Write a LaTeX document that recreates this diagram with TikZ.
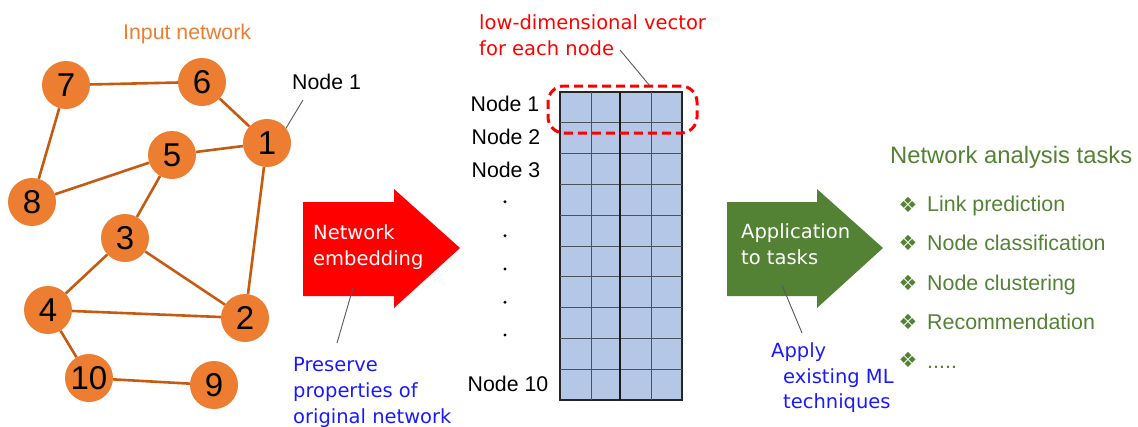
\documentclass[tikz,border=0pt]{standalone}
\usepackage{fontspec}
\setmainfont{Liberation Sans}
\newfontfamily\notefont{DejaVu Sans}
\newfontfamily\symfont{DejaVu Sans}
\definecolor{nodeorange}{HTML}{ED7D31}
\definecolor{edgeorange}{HTML}{C55A11}
\definecolor{taskgreen}{HTML}{548235}
\definecolor{noteblue}{HTML}{1A1AFF}
\definecolor{cellblue}{HTML}{B4C7E7}
\definecolor{gridgray}{HTML}{4A525C}
\begin{document}
\begin{tikzpicture}[x=1pt,y=-1pt,
  vertex/.style={circle, fill=nodeorange, minimum size=48pt, inner sep=0pt,
    font=\fontsize{33}{36}\selectfont},
  link/.style={draw=edgeorange, line width=2.6pt},
  leader/.style={draw=black!65, line width=0.9pt},
  plain/.style={inner sep=0pt, anchor=base west},
  rowlabel/.style={inner sep=0pt, anchor=base, font=\fontsize{21.3}{25}\selectfont},
  note/.style={inner sep=0pt, anchor=base west, align=left,
    font=\notefont\fontsize{19.5}{25.7}\selectfont},
  task/.style={inner sep=0pt, anchor=base west, text=taskgreen,
    font=\fontsize{21.4}{25}\selectfont},
  bullet/.style={inner sep=0pt, anchor=center, text=taskgreen,
    font=\symfont\fontsize{21}{24}\selectfont},
  gridline/.style={draw=gridgray, line width=0.9pt}
]
\useasboundingbox (0,0) rectangle (1138,426);

% ---------------- input network ----------------
\node[plain, text=nodeorange, font=\fontsize{21.3}{25}\selectfont] (title) at (123,39.3) {Input network};

\node[vertex] (n7)  at (66,85)   {7};
\node[vertex] (n6)  at (202,82)  {6};
\node[vertex] (n1)  at (267,143) {1};
\node[vertex] (n5)  at (172,155) {5};
\node[vertex] (n8)  at (32,202)  {8};
\node[vertex] (n3)  at (125,238) {3};
\node[vertex] (n4)  at (48,310)  {4};
\node[vertex] (n2)  at (245,318) {2};
\node[vertex] (n10) at (89,378)  {10};
\node[vertex] (n9)  at (214,385) {9};

\draw[link] (n7) -- (n6);
\draw[link] (n7) -- (n8);
\draw[link] (n6) -- (n1);
\draw[link] (n5) -- (n1);
\draw[link] (n5) -- (n8);
\draw[link] (n5) -- (n3);
\draw[link] (n1) -- (n2);
\draw[link] (n3) -- (n4);
\draw[link] (n3) -- (n2);
\draw[link] (n4) -- (n2);
\draw[link] (n4) -- (n10);
\draw[link] (n10) -- (n9);

\node[plain, font=\fontsize{21.3}{25}\selectfont] (nodeone) at (292,89.3) {Node 1};
\coordinate (nodeonefoot) at (303,100);
\draw[leader] (nodeonefoot) -- (n1.38);

% ---------------- network embedding arrow ----------------
% multi-line notes are anchored at the baseline of their last line
\fill[red] (303,202) -- (394,202) -- (394,189) -- (460,248) -- (394,308)
  -- (394,296) -- (303,296) -- cycle;
\node[note, text=white] (embed) at (313,265.3) {Network\\embedding};
\coordinate (embedpt) at (353,288);
\node[note, text=noteblue] (preserve) at (293,423) {Preserve\\properties of\\original network};
\coordinate (preservetop) at (337,343);
\draw[leader] (embedpt) -- (preservetop);

% ---------------- embedding matrix ----------------
\node[note, text=red] (vecnote) at (479,55.5) {low-dimensional vector\\for each node};
\node[draw=black!85, line width=1.2pt, fill=cellblue, inner sep=0pt,
  minimum width=122pt, minimum height=308pt] (mat) at (621,246) {};
\foreach \x in {591,651} \draw[gridline] (\x,92) -- (\x,400);
\foreach \k in {1,2,3,4,5,6,7,8,9} \draw[gridline] (560,92+30.8*\k) -- (682,92+30.8*\k);
\draw[black!90, line width=1.2pt] (620,92) -- (620,400);
\draw[black!85, line width=1.2pt] (mat.north west) rectangle (mat.south east);

\node[rowlabel] (r1) at (505,111.2) {Node 1};
\node[rowlabel] (r2) at (506,144.3) {Node 2};
\node[rowlabel] (r3) at (506,177.7) {Node 3};
\node[rowlabel] (r10) at (508,391.7) {Node 10};
\foreach \y in {201.7,235.7,269,302.3,335}
  \fill (505,\y) circle (1.6pt);

\node[draw=red, line width=3pt, dash pattern=on 9pt off 5pt,
  rounded corners=16pt, minimum width=149pt, minimum height=47pt,
  inner sep=0pt] (pick) at (622.5,109.5) {};
\coordinate (vecfoot) at (620,50);
\coordinate (pickedge) at (650,86);
\draw[leader] (vecfoot) -- (pickedge);

% ---------------- application arrow ----------------
\fill[taskgreen] (727,202) -- (817,202) -- (817,189) -- (883,248) -- (817,308)
  -- (817,296) -- (727,296) -- cycle;
\node[note, text=white] (apply) at (741,264.5) {Application\\to tasks};
\coordinate (applypt) at (782,285);
\coordinate (mltop) at (802,333);
\draw[leader] (applypt) -- (mltop);
\node[note, text=noteblue] (ml1) at (771,357.7) {Apply};
\node[note, text=noteblue] (ml2) at (783,408.8) {existing ML\\techniques};

% ---------------- task list ----------------
\node[plain, text=taskgreen, font=\fontsize{23.8}{28}\selectfont] (tasks) at (890,163.3) {Network analysis tasks};
\node[bullet] (b1) at (908,205) {❖};
\node[task] (t1) at (927,211.7) {Link prediction};
\node[bullet] (b2) at (908,243) {❖};
\node[task] (t2) at (927,250.7) {Node classification};
\node[bullet] (b3) at (908,283) {❖};
\node[task] (t3) at (927,290.7) {Node clustering};
\node[bullet] (b4) at (908,322) {❖};
\node[task] (t4) at (927,329) {Recommendation};
\node[bullet] (b5) at (908,360) {❖};
\node[task] (t5) at (927,368.3) {.....};
\end{tikzpicture}
\end{document}
